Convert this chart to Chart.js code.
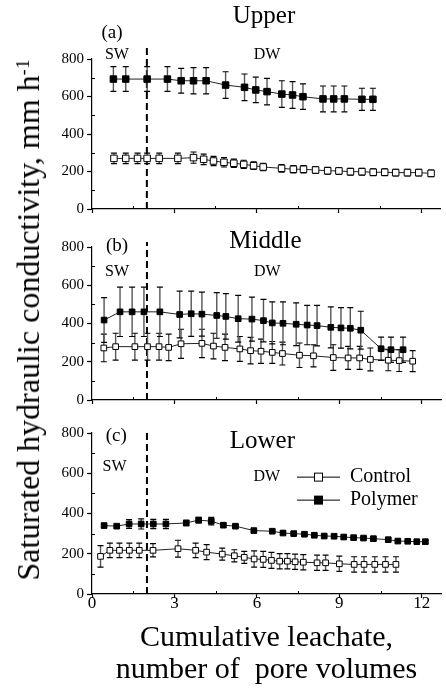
<!DOCTYPE html>
<html>
<head>
<meta charset="utf-8">
<script src="https://cdn.jsdelivr.net/npm/chart.js@4.4.1/dist/chart.umd.min.js"></script>
<style>
body{margin:0;background:#fff;width:446px;height:694px;position:relative;overflow:hidden;font-family:"Liberation Serif","Times New Roman",serif;}
canvas{position:absolute;left:0;}
#ytitle{position:absolute;left:28px;top:320px;transform:translate(-50%,-50%) rotate(-90deg);white-space:nowrap;font-size:32px;line-height:1;color:#000;}
#ytitle sup{font-size:19px;vertical-align:0.55em;line-height:0;}
</style>
</head>
<body>
<canvas id="chartA" width="446" height="222" style="top:0px"></canvas>
<canvas id="chartB" width="446" height="187" style="top:225px"></canvas>
<canvas id="chartC" width="446" height="282" style="top:412px"></canvas>
<div id="ytitle">Saturated hydraulic conductivity, mm h<sup>-1</sup></div>
<script>
// cumulative leachate (pore volumes), Ksat (mm/h) and error (+/-)

// (a) Upper
const upperControlX = [0.80,1.23,1.66,2.01,2.45,3.13,3.70,4.07,4.43,4.81,5.17,5.53,5.89,6.24,6.91,7.34,7.71,8.15,8.59,9.00,9.42,9.84,10.25,10.67,11.07,11.50,11.91,12.36];
const upperControlY = [270,270,270,270,270,270,274,265,256,249,244,238,231,224,217,212,212,208,204,203,199,199,196,196,194,194,194,190];
const upperControlErr = [28,28,28,28,28,28,30,28,25,25,22,22,20,20,20,20,20,18,18,18,18,18,18,18,18,18,18,18];
const upperPolymerX = [0.78,1.23,2.01,2.75,3.25,3.70,4.16,4.87,5.56,5.97,6.38,6.92,7.31,7.69,8.42,8.81,9.20,9.84,10.24];
const upperPolymerY = [693,693,693,693,684,684,684,661,649,635,626,613,608,599,587,587,587,585,585];
const upperPolymerErr = [66,66,66,66,66,70,70,71,71,68,71,71,71,68,69,69,69,59,59];

// (b) Middle
const middleControlX = [0.43,0.86,1.56,2.02,2.44,2.79,3.24,4.00,4.42,4.84,5.38,5.77,6.15,6.56,6.93,7.55,8.06,8.78,9.32,9.74,10.13,10.78,11.18,11.67];
const middleControlY = [272,279,279,279,279,275,294,296,282,275,267,258,255,249,243,234,231,222,220,220,212,208,206,203];
const middleControlErr = [72,70,70,70,70,69,76,74,67,69,65,69,63,57,60,64,58,67,60,60,60,55,57,55];
const middlePolymerX = [0.44,1.02,1.46,1.89,2.47,3.19,3.61,4.00,4.54,4.87,5.32,5.82,6.24,6.56,6.95,7.43,7.83,8.19,8.69,9.06,9.40,9.78,10.52,10.88,11.32];
const middlePolymerY = [418,461,461,461,461,447,451,449,442,437,425,423,415,403,401,396,392,389,380,377,375,365,268,263,263];
const middlePolymerErr = [117,129,129,129,129,122,118,115,119,119,122,115,111,110,112,112,103,106,107,106,108,99,61,66,66];

// (c) Lower
const lowerControlX = [0.31,0.65,1.00,1.36,1.72,2.22,3.13,3.77,4.17,4.74,5.18,5.54,5.90,6.23,6.53,6.83,7.11,7.39,7.69,8.19,8.50,9.00,9.54,9.90,10.29,10.68,11.06];
const lowerControlY = [187,217,217,217,217,217,225,217,208,198,190,182,174,172,167,163,163,160,158,155,155,150,147,147,147,147,147];
const lowerControlErr = [53,36,36,36,36,33,42,36,37,30,30,30,40,40,40,38,38,38,38,38,38,38,38,38,38,38,38];
const lowerPolymerX = [0.44,0.90,1.35,1.79,2.23,2.69,3.43,3.88,4.34,4.78,5.22,5.89,6.56,6.95,7.34,7.73,8.09,8.45,8.81,9.16,9.52,9.88,10.24,10.78,11.13,11.49,11.82,12.13];
const lowerPolymerY = [340,337,348,348,348,348,353,367,362,342,337,315,312,303,300,297,292,288,287,283,280,278,275,270,263,262,260,260];
const lowerPolymerErr = [8,8,22,25,23,23,13,14,19,9,6,6,6,6,6,6,6,6,6,6,6,6,6,6,6,6,6,6];

const seriesNames = ['Control', 'Polymer'];
const xTickStep = 1.5, xMax = 12.7;
const yTickStep = 100, yMax = 800;
const switchAt = 2; // SW -> DW
const SERIF = '"Liberation Serif", "Times New Roman", serif';

Chart.defaults.font.family = SERIF;
Chart.defaults.color = '#000';

const isMajor = (v, step) => Math.abs(v / step - Math.round(v / step)) < 0.001;

// error bars, drawn under the markers
const errorBars = {
  id: 'errorBars',
  beforeDatasetsDraw(chart) {
    const ctx = chart.ctx, y = chart.scales.y;
    chart.data.datasets.forEach((ds, i) => {
      chart.getDatasetMeta(i).data.forEach((pt, j) => {
        const e = ds.errors[j];
        const t = y.getPixelForValue(ds.data[j].y + e);
        const b = y.getPixelForValue(ds.data[j].y - e);
        ctx.save();
        ctx.strokeStyle = '#555';
        ctx.lineWidth = 1.4;
        ctx.beginPath(); ctx.moveTo(pt.x, t); ctx.lineTo(pt.x, b); ctx.stroke();
        ctx.strokeStyle = '#000';
        ctx.lineWidth = 1.2;
        ctx.beginPath();
        ctx.moveTo(pt.x - 3, t); ctx.lineTo(pt.x + 3, t);
        ctx.moveTo(pt.x - 3, b); ctx.lineTo(pt.x + 3, b);
        ctx.stroke();
        ctx.restore();
      });
    });
  }
};

// dashed line where the water changes
const switchLine = {
  id: 'switchLine',
  beforeDatasetsDraw(chart, args, opts) {
    const {ctx, scales: {x, y}} = chart;
    const px = x.getPixelForValue(switchAt);
    ctx.save();
    ctx.setLineDash([7, 4]);
    ctx.lineWidth = 2;
    ctx.strokeStyle = '#000';
    ctx.beginPath();
    ctx.moveTo(px, y.getPixelForValue(0));
    ctx.lineTo(px, y.getPixelForValue(opts.top));
    ctx.stroke();
    ctx.restore();
  }
};

// small inward ticks between the labelled ones
const minorTicks = {
  id: 'minorTicks',
  afterDraw(chart) {
    const {ctx, chartArea, scales: {x, y}} = chart;
    ctx.save();
    ctx.strokeStyle = '#000';
    ctx.lineWidth = 1;
    ctx.beginPath();
    x.ticks.forEach(t => {
      if (isMajor(t.value, 3)) return;
      const px = Math.round(x.getPixelForValue(t.value)) + 0.5;
      ctx.moveTo(px, chartArea.bottom); ctx.lineTo(px, chartArea.bottom - 3);
    });
    y.ticks.forEach(t => {
      if (isMajor(t.value, 200)) return;
      const py = Math.round(y.getPixelForValue(t.value)) + 0.5;
      ctx.moveTo(chartArea.left, py); ctx.lineTo(chartArea.left + 3, py);
    });
    ctx.stroke();
    ctx.restore();
  }
};

// panel titles and SW / DW labels, placed in data units
const notes = {
  id: 'notes',
  afterDraw(chart, args, opts) {
    const {ctx, scales: {x, y}} = chart;
    ctx.save();
    ctx.fillStyle = '#000';
    ctx.textAlign = 'center';
    ctx.textBaseline = 'middle';
    opts.items.forEach(n => {
      ctx.font = n.size + 'px ' + SERIF;
      ctx.fillText(n.text, x.getPixelForValue(n.x), y.getPixelForValue(n.y));
    });
    ctx.restore();
  }
};

// move the legend inside the plot
const placeLegend = {
  id: 'placeLegend',
  afterLayout(chart, args, opts) {
    if (!opts.at || !chart.legend) return;
    const lg = chart.legend;
    const l = chart.scales.x.getPixelForValue(opts.at.x);
    const t = chart.scales.y.getPixelForValue(opts.at.y);
    lg.left = l; lg.top = t;
    lg.right = l + lg.width; lg.bottom = t + lg.height;
  }
};

function legendIcon(fill) {
  const c = document.createElement('canvas');
  c.width = 43; c.height = 12;
  const g = c.getContext('2d');
  g.strokeStyle = '#000';
  g.lineWidth = 1;
  g.beginPath(); g.moveTo(0, 6.5); g.lineTo(43, 6.5); g.stroke();
  g.fillStyle = fill;
  g.fillRect(17.5, 2.5, 8, 8);
  g.strokeRect(17.5, 2.5, 8, 8);
  return c;
}

function series(label, xs, ys, errs, fill, r) {
  return {
    label: label,
    data: xs.map((x, i) => ({x: x, y: ys[i]})),
    errors: errs,
    showLine: true,
    borderColor: '#222',
    borderWidth: 1,
    pointStyle: 'rect',
    pointRadius: r,
    pointBackgroundColor: fill,
    pointBorderColor: '#000',
    pointBorderWidth: 1,
    clip: false
  };
}

function panel(id, p) {
  return new Chart(document.getElementById(id), {
    type: 'scatter',
    data: {
      datasets: [
        series(seriesNames[0], p.cx, p.cy, p.ce, '#fff', p.r),
        series(seriesNames[1], p.px, p.py, p.pe, '#000', p.r)
      ]
    },
    options: {
      responsive: false,
      animation: false,
      devicePixelRatio: 1,
      events: [],
      layout: {padding: {top: p.padTop, left: 0, right: 0, bottom: 0}},
      scales: {
        x: {
          type: 'linear', min: 0, max: xMax,
          afterFit: s => { s.height = p.xAxisH; },
          border: {color: '#000', width: 1.2},
          grid: {
            drawOnChartArea: false, drawTicks: true, tickLength: 4, tickWidth: 1.2,
            tickColor: c => isMajor(c.tick.value, 3) ? '#000' : 'rgba(0,0,0,0)'
          },
          ticks: {
            stepSize: xTickStep, includeBounds: false, autoSkip: false, maxRotation: 0,
            padding: -3, color: '#000', font: {size: 17, lineHeight: 1},
            callback: v => (p.xLabels && isMajor(v, 3)) ? String(Math.round(v)) : ''
          },
          title: p.xTitle ? {
            display: true, text: p.xTitle, color: '#000',
            font: {size: 30, lineHeight: 1.07}, padding: {top: 0, bottom: 8}
          } : {display: false}
        },
        y: {
          type: 'linear', min: 0, max: yMax,
          afterFit: s => { s.width = 92; },
          border: {color: '#000', width: 1.2},
          grid: {
            drawOnChartArea: false, drawTicks: true, tickLength: 5, tickWidth: 1.2,
            tickColor: c => isMajor(c.tick.value, 200) ? '#000' : 'rgba(0,0,0,0)'
          },
          ticks: {
            stepSize: yTickStep, autoSkip: false, padding: 3, color: '#000',
            font: {size: 15},
            callback: v => isMajor(v, 200) ? String(v) : ''
          }
        }
      },
      plugins: {
        legend: p.legendAt ? {
          display: true, position: 'chartArea', align: 'start',
          labels: {
            usePointStyle: true, pointStyleWidth: 43, boxHeight: 12, padding: 3,
            color: '#000', font: {size: 20},
            generateLabels: chart => chart.data.datasets.map((ds, i) => ({
              text: ds.label, pointStyle: legendIcon(ds.pointBackgroundColor),
              fillStyle: ds.pointBackgroundColor, strokeStyle: '#000', lineWidth: 1,
              hidden: false, datasetIndex: i, fontColor: '#000'
            }))
          }
        } : {display: false},
        placeLegend: {at: p.legendAt || null},
        tooltip: {enabled: false},
        switchLine: {top: p.dashTop},
        notes: {items: p.notes}
      }
    },
    plugins: [switchLine, errorBars, minorTicks, notes, placeLegend]
  });
}

panel('chartA', {
  cx: upperControlX, cy: upperControlY, ce: upperControlErr,
  px: upperPolymerX, py: upperPolymerY, pe: upperPolymerErr,
  r: 4.6, padTop: 59, xAxisH: 13, xLabels: false, dashTop: 865,
  notes: [
    {text: 'Upper', x: 6.27, y: 1029, size: 25},
    {text: '(a)', x: 0.73, y: 937, size: 19},
    {text: 'SW', x: 0.91, y: 821, size: 16},
    {text: 'DW', x: 6.38, y: 821, size: 16}
  ]
});

panel('chartB', {
  cx: middleControlX, cy: middleControlY, ce: middleControlErr,
  px: middlePolymerX, py: middlePolymerY, pe: middlePolymerErr,
  r: 4, padTop: 22, xAxisH: 10, xLabels: false, dashTop: 826,
  notes: [
    {text: 'Middle', x: 6.31, y: 828, size: 25},
    {text: '(b)', x: 0.91, y: 803, size: 19},
    {text: 'SW', x: 0.91, y: 671, size: 16},
    {text: 'DW', x: 6.38, y: 671, size: 16}
  ]
});

panel('chartC', {
  cx: lowerControlX, cy: lowerControlY, ce: lowerControlErr,
  px: lowerPolymerX, py: lowerPolymerY, pe: lowerPolymerErr,
  r: 4, padTop: 21, xAxisH: 100, xLabels: true, dashTop: 800,
  xTitle: ['Cumulative leachate,', 'number of  pore volumes'],
  legendAt: {x: 7.35, y: 648},
  notes: [
    {text: 'Lower', x: 6.2, y: 758, size: 25},
    {text: '(c)', x: 0.88, y: 783, size: 19},
    {text: 'SW', x: 0.82, y: 634, size: 16},
    {text: 'DW', x: 6.36, y: 584, size: 16}
  ]
});
</script>
</body>
</html>
